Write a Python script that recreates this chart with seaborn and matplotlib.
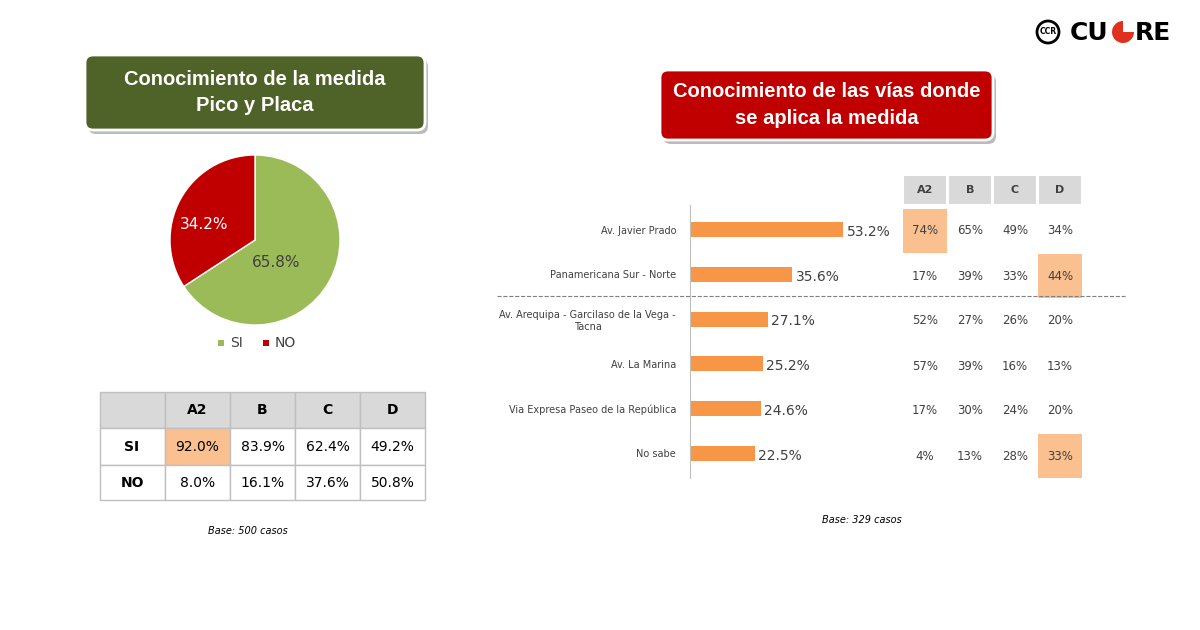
import matplotlib
matplotlib.use("Agg")
import matplotlib.pyplot as plt
import seaborn as sns
import pandas as pd
from matplotlib.patches import FancyBboxPatch, Rectangle, Circle, Wedge

# ---- data ----
pie_labels = ["SI", "NO"]
pie_values = [65.8, 34.2]
groups = ["A2", "B", "C", "D"]
know_si = ["92.0%", "83.9%", "62.4%", "49.2%"]
know_no = ["8.0%", "16.1%", "37.6%", "50.8%"]
roads = ["Av. Javier Prado", "Panamericana Sur - Norte",
         "Av. Arequipa - Garcilaso de la Vega -\nTacna", "Av. La Marina",
         "Via Expresa Paseo de la República", "No sabe"]
road_pct = [53.2, 35.6, 27.1, 25.2, 24.6, 22.5]
road_tab = [["74%", "65%", "49%", "34%"],
            ["17%", "39%", "33%", "44%"],
            ["52%", "27%", "26%", "20%"],
            ["57%", "39%", "16%", "13%"],
            ["17%", "30%", "24%", "20%"],
            ["4%", "13%", "28%", "33%"]]
road_hl = [(0, 0), (1, 3), (5, 3)]

W, H = 1200, 630
fig = plt.figure(figsize=(12, 6.3), dpi=100)
bg = fig.add_axes([0, 0, 1, 1])
bg.set_xlim(0, W); bg.set_ylim(H, 0); bg.axis("off")

def title_box(x0, y0, x1, y1, col, txt):
    bg.add_patch(FancyBboxPatch((x0 + 3, y0 + 4), x1 - x0, y1 - y0, boxstyle="round,pad=0,rounding_size=8",
                                fc="#bbbbbb", ec="none", zorder=1))
    bg.add_patch(FancyBboxPatch((x0, y0), x1 - x0, y1 - y0, boxstyle="round,pad=0,rounding_size=8",
                                fc=col, ec="white", lw=2, zorder=2))
    bg.text((x0 + x1) / 2, (y0 + y1) / 2, txt, color="white", fontsize=14.5, fontweight="bold",
            family="Liberation Sans", ha="center", va="center", linespacing=1.5, zorder=3)

title_box(85, 55, 425, 130, "#4f6228", "Conocimiento de la medida\nPico y Placa")
title_box(660, 70, 993, 140, "#c00000", "Conocimiento de las vías donde\nse aplica la medida")

# logo
bg.add_patch(Circle((1048, 32), 11, fc="white", ec="black", lw=2))
bg.text(1048, 32, "CCR", fontsize=5.5, ha="center", va="center", fontweight="bold")
bg.text(1070, 33, "CU", fontsize=18, fontweight="bold", ha="left", va="center")
bg.add_patch(Wedge((1123, 32), 11, 0, 270, fc="#e0301e"))
bg.text(1135, 33, "RE", fontsize=18, fontweight="bold", ha="left", va="center")

# pie
pax = fig.add_axes([(255 - 85) / W, 1 - (240 + 85) / H, 170 / W, 170 / H])
pax.pie(pie_values, colors=["#9bbb59", "#c00000"], startangle=90, counterclock=False,
        wedgeprops=dict(ec="white", lw=1))
pax.set_xlim(-1, 1); pax.set_ylim(-1, 1)
pax.text(0.25, -0.26, f"{pie_values[0]}%", ha="center", va="center", fontsize=11, color="#404040")
pax.text(-0.6, 0.18, f"{pie_values[1]}%", ha="center", va="center", fontsize=11, color="white",
         clip_on=False, zorder=5)
pax.set_aspect("equal")
for i, (lab, c) in enumerate(zip(pie_labels, ["#9bbb59", "#c00000"])):
    x = 218 + i * 45
    bg.add_patch(Rectangle((x, 340), 6, 6, fc=c))
    bg.text(x + 12, 343, lab, fontsize=10, va="center", color="#404040")

# left table
xs = [100, 165, 230, 295, 360, 425]
ys = [392, 428, 465, 500]
for j in range(5):
    for i in range(3):
        fc = "#d9d9d9" if i == 0 else "white"
        if i == 1 and j == 1:
            fc = "#fac090"
        bg.add_patch(Rectangle((xs[j], ys[i]), xs[j + 1] - xs[j], ys[i + 1] - ys[i], fc=fc, ec="#bfbfbf", lw=1))
for j, g in enumerate(groups):
    bg.text((xs[j + 1] + xs[j + 2]) / 2, 410, g, ha="center", va="center", fontsize=10, fontweight="bold")
    bg.text((xs[j + 1] + xs[j + 2]) / 2, 447, know_si[j], ha="center", va="center", fontsize=10)
    bg.text((xs[j + 1] + xs[j + 2]) / 2, 483, know_no[j], ha="center", va="center", fontsize=10)
bg.text(132, 447, "SI", ha="center", va="center", fontsize=10, fontweight="bold")
bg.text(132, 483, "NO", ha="center", va="center", fontsize=10, fontweight="bold")
bg.text(248, 531, "Base: 500 casos", ha="center", va="center", fontsize=7, style="italic")

# bar chart
bax = fig.add_axes([690 / W, 1 - 478 / H, 200 / W, 273 / H])
df = pd.DataFrame({"road": roads, "pct": road_pct})
sns.barplot(data=df, x="pct", y="road", color="#f79646", saturation=1, width=0.33, ax=bax)
bax.set_xlim(0, 69.5)
bax.set_ylim(5.55, -0.55)
for i, v in enumerate(road_pct):
    bax.text(v + 1.2, i + 0.05, f"{v}%", va="center", fontsize=10, color="#404040")
bax.set_xlabel(""); bax.set_ylabel("")
bax.set_xticks([])
bax.tick_params(axis="y", length=0, labelsize=7, labelcolor="#404040", pad=10)
for lab in bax.get_yticklabels():
    lab.set_multialignment("center")
for s in ["top", "right", "bottom"]:
    bax.spines[s].set_visible(False)
bax.spines["left"].set_color("#bfbfbf")
bax.patch.set_alpha(0)

# right table
cx = [925, 970, 1015, 1060]
for j, g in enumerate(groups):
    bg.add_patch(Rectangle((cx[j] - 22, 175), 44, 30, fc="#d9d9d9", ec="white", lw=1.5))
    bg.text(cx[j], 190, g, ha="center", va="center", fontsize=8, fontweight="bold", color="#404040")
ry = [231, 276, 321, 366, 411, 456]
for r, (y, row) in enumerate(zip(ry, road_tab)):
    for j, t in enumerate(row):
        if (r, j) in road_hl:
            bg.add_patch(Rectangle((cx[j] - 22, y - 22), 44, 44, fc="#fac090", ec="none"))
        bg.text(cx[j], y, t, ha="center", va="center", fontsize=8.5, color="#404040")
bg.plot([497, 1125], [296, 296], ls="--", color="#7f7f7f", lw=0.8)
bg.text(862, 520, "Base: 329 casos", ha="center", va="center", fontsize=7, style="italic")

fig.savefig("out.png", dpi=100, facecolor="white")
